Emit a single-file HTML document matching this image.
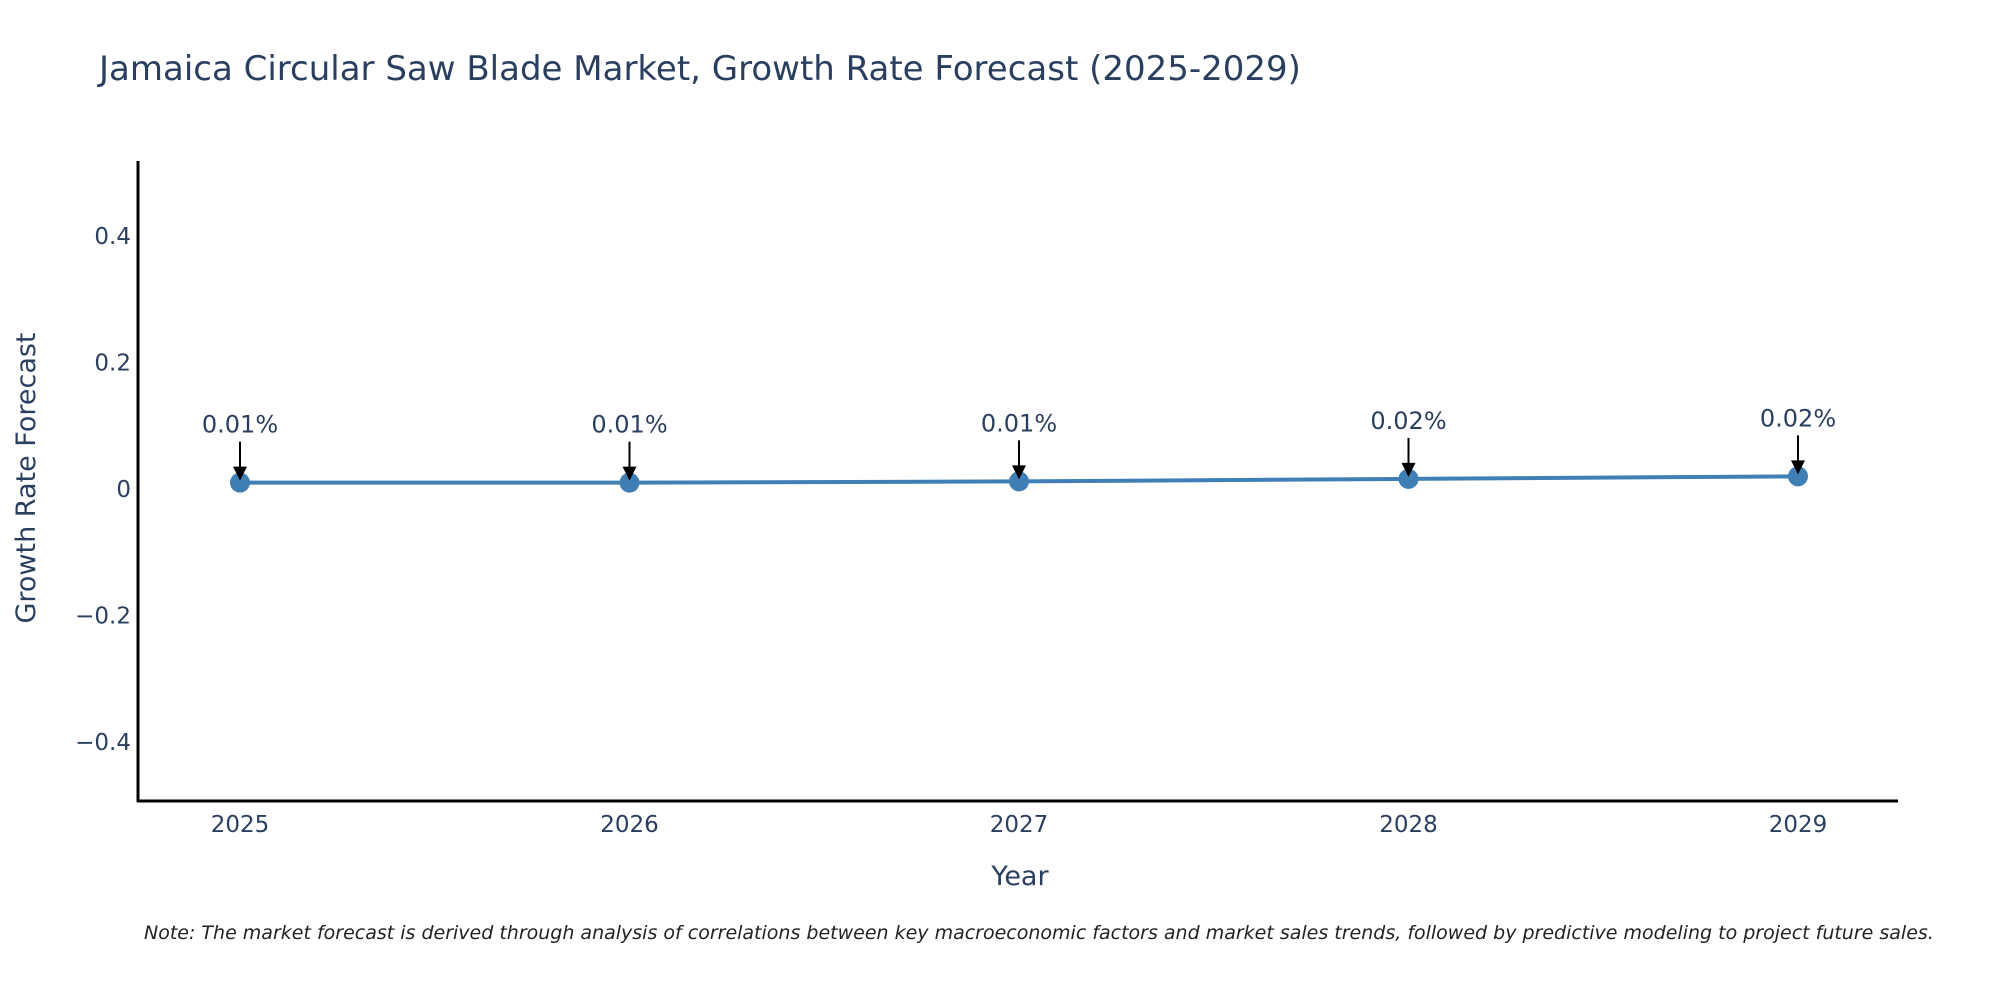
<!DOCTYPE html>
<html><head><meta charset="utf-8"><style>
body{margin:0;background:#fff;width:2000px;height:1000px;overflow:hidden;font-family:"DejaVu Sans","Liberation Sans",sans-serif}
</style></head><body>
<svg width="2000" height="1000" xmlns="http://www.w3.org/2000/svg" id="chart" font-family="DejaVu Sans, Liberation Sans, sans-serif">
<text x="99" y="80" font-size="34" fill="#2a3f5f">Jamaica Circular Saw Blade Market, Growth Rate Forecast (2025-2029)</text>
<g id="yticks"></g>
<g id="xticks"></g>
<line x1="138" y1="161" x2="138" y2="802" stroke="#000" stroke-width="3"/>
<line x1="137" y1="801" x2="1898" y2="801" stroke="#000" stroke-width="3"/>
<g id="series"></g>
<text transform="translate(35,478) rotate(-90)" text-anchor="middle" font-size="27" fill="#2a3f5f">Growth Rate Forecast</text>
<text x="1020" y="885" text-anchor="middle" font-size="27" fill="#2a3f5f">Year</text>
<text x="144" y="939" font-size="19" font-style="italic" fill="#222">Note: The market forecast is derived through analysis of correlations between key macroeconomic factors and market sales trends, followed by predictive modeling to project future sales.</text>
</svg>
<script>
const years=["2025","2026","2027","2028","2029"];
const values=[0.01,0.01,0.012,0.016,0.02];
const labels=["0.01%","0.01%","0.01%","0.02%","0.02%"];
const yTickVals=[-0.4,-0.2,0,0.2,0.4];
const yTickLabels=["\u22120.4","\u22120.2","0","0.2","0.4"];
const NS="http://www.w3.org/2000/svg";
function xs(i){return 240+i*389.5;}
function ys(v){return 489-v*632.5;}
function mk(t,a,p){const e=document.createElementNS(NS,t);for(const k in a)e.setAttribute(k,a[k]);p.appendChild(e);return e;}
const yt=document.getElementById('yticks');
yTickVals.forEach((v,i)=>{const t=mk('text',{x:131,y:ys(v)+8,'text-anchor':'end','font-size':23,fill:'#2a3f5f'},yt);t.textContent=yTickLabels[i];

});
const xt=document.getElementById('xticks');
years.forEach((y,i)=>{const t=mk('text',{x:xs(i),y:832,'text-anchor':'middle','font-size':23,fill:'#2a3f5f'},xt);t.textContent=y;

});
const s=document.getElementById('series');
const pts=values.map((v,i)=>xs(i)+','+ys(v)).join(' ');
const pl=mk('polyline',{points:pts,fill:'none',stroke:'#3f7fb5','stroke-width':4},s);


values.forEach((v,i)=>{
const c=mk('circle',{cx:xs(i),cy:ys(v),r:10,fill:'#3f7fb5'},s);


const py=ys(v);
const l=mk('line',{x1:xs(i),y1:py-41,x2:xs(i),y2:py-14,stroke:'#000','stroke-width':2},s);


const h=mk('polygon',{points:`${xs(i)-7},${py-16} ${xs(i)+7},${py-16} ${xs(i)},${py-2}`,fill:'#000'},s);


const t=mk('text',{x:xs(i),y:py-50,'text-anchor':'middle','font-size':24,fill:'#2a3f5f'},s);t.textContent=labels[i];


});
</script>
</body></html>
